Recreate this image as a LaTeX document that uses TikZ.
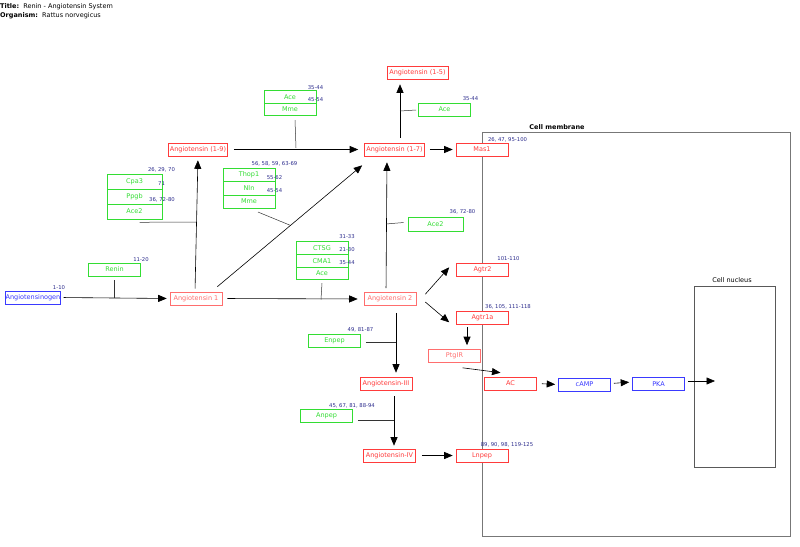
\documentclass[tikz,border=0pt]{standalone}
\usepackage{fontspec}
\setmainfont{DejaVu Sans}
\usetikzlibrary{arrows.meta}
\definecolor{nred}{HTML}{FF3B3B}
\definecolor{npink}{HTML}{FF6E6E}
\definecolor{ngreen}{HTML}{33DD33}
\definecolor{nblue}{HTML}{3A3AFF}
\definecolor{nlab}{HTML}{2B2B8C}
\definecolor{memb}{HTML}{777777}
\newcommand{\nf}{\fontsize{6.5}{7}\selectfont}
\newcommand{\lf}{\fontsize{5.3}{6}\selectfont}
\tikzset{
 base/.style={draw, fill=white, inner sep=0pt, minimum height=13pt, minimum width=52pt, font=\nf, line width=0.6pt},
 redn/.style={base, draw=nred, text=nred},
 pinkn/.style={base, draw=npink, text=npink},
 greenn/.style={base, draw=ngreen, text=ngreen},
 bluen/.style={base, draw=nblue, text=nblue},
 grprow/.style={base, draw=ngreen, text=ngreen},
 lab/.style={font=\lf, text=nlab, inner sep=0pt},
 arr/.style={-{Triangle[length=8.5pt,width=7pt]}, line width=0.6pt, draw=black, shorten >=3pt, shorten <=3pt},
 cat/.style={line width=0.5pt, draw=black!80},
 comp/.style={draw=memb, line width=0.7pt},
}
\begin{document}
\begin{tikzpicture}[x=1pt,y=-1pt]
\useasboundingbox (0,0) rectangle (800,546);
% title
\node[anchor=west, inner sep=0pt, font=\nf] (title) at (0,7) {\textbf{Title:}\ \ Renin - Angiotensin System};
\node[anchor=west, inner sep=0pt, font=\nf] (org) at (0,16) {\textbf{Organism:}\ \ Rattus norvegicus};
% compartments
\draw[comp] (482,132) rectangle (790,536);
\node[font=\nf\bfseries, inner sep=0pt] (membl) at (557,127) {Cell membrane};
\draw[comp, draw=black!65] (694,286) rectangle (775,467);
\node[font=\nf, inner sep=0pt] (nucl) at (732,280) {Cell nucleus};
% main nodes
\node[bluen] (agn) at (33,297.5) {Angiotensinogen};
\node[greenn] (renin) at (114.5,269.5) {Renin};
\node[pinkn] (ang1) at (196,298.5) {Angiotensin 1};
\node[pinkn] (ang2) at (390,299) {Angiotensin 2};
\node[redn, minimum width=59pt] (a19) at (198,149.5) {Angiotensin (1-9)};
\node[redn, minimum width=60pt] (a17) at (394.5,149.5) {Angiotensin (1-7)};
\node[redn, minimum width=61pt] (a15) at (417.5,72.5) {Angiotensin (1-5)};
\node[greenn] (acer) at (444.5,109.5) {Ace};
\node[redn] (mas1) at (482,149.5) {Mas1};
\node[greenn, minimum width=55pt, minimum height=14pt] (ace2r) at (435.5,224.5) {Ace2};
\node[redn] (agtr2) at (482.5,269.5) {Agtr2};
\node[redn] (agtr1a) at (482.5,317.5) {Agtr1a};
\node[pinkn] (ptgir) at (454.5,356) {PtgIR};
\node[redn] (ac) at (510.5,383.5) {AC};
\node[bluen] (camp) at (584.5,384.5) {cAMP};
\node[bluen] (pka) at (658.5,384) {PKA};
\coordinate (nucin) at (715,381);
\node[greenn] (enpep) at (334.5,340.5) {Enpep};
\node[redn] (a3) at (386,383.5) {Angiotensin-III};
\node[greenn] (anpep) at (326.5,415.5) {Anpep};
\node[redn] (a4) at (389.5,455.5) {Angiotensin-IV};
\node[redn] (lnpep) at (482,455.5) {Lnpep};
% groups
\node[grprow, minimum height=12.5pt] (aceg) at (290,97) {Ace};
\node[grprow, minimum height=12.5pt] (mmeg) at (290,109.5) {Mme};
\node[grprow, minimum width=55pt, minimum height=15pt] (cpa3) at (134.5,181.5) {Cpa3};
\node[grprow, minimum width=55pt, minimum height=15pt] (ppgb) at (134.5,196.5) {Ppgb};
\node[grprow, minimum width=55pt, minimum height=15pt] (ace2l) at (134.5,211.5) {Ace2};
\node[grprow, minimum height=13.3pt] (thop1) at (249,175) {Thop1};
\node[grprow, minimum height=13.3pt] (nln) at (249,188.3) {Nln};
\node[grprow, minimum height=13.3pt] (mmet) at (249,201.6) {Mme};
\node[grprow, minimum height=12.7pt] (ctsg) at (322,248) {CTSG};
\node[grprow, minimum height=12.7pt] (cma1) at (322,260.7) {CMA1};
\node[grprow, minimum height=12.7pt] (acec) at (322,273.4) {Ace};
% labels
\node[lab] (l1) at (315.5,88) {35-44};
\node[lab] (l2) at (315.5,100) {45-54};
\node[lab] (l3) at (470.5,99) {35-44};
\node[lab] (l4) at (507.5,140) {26, 47, 95-100};
\node[lab] (l5) at (161.5,170) {26, 29, 70};
\node[lab] (l6) at (161.5,184) {71};
\node[lab] (l7) at (162,200) {36, 72-80};
\node[lab] (l8) at (274.5,164) {56, 58, 59, 63-69};
\node[lab] (l9) at (274.5,178) {55-62};
\node[lab] (l10) at (274.5,191) {45-54};
\node[lab] (l11) at (347,237) {31-33};
\node[lab] (l12) at (347,250) {21-30};
\node[lab] (l13) at (347,263) {35-44};
\node[lab] (l14) at (462.5,212) {36, 72-80};
\node[lab] (l15) at (508.5,259) {101-110};
\node[lab] (l16) at (508,307) {36, 105, 111-118};
\node[lab] (l17) at (141,260) {11-20};
\node[lab] (l18) at (59,288) {1-10};
\node[lab] (l19) at (360.5,330) {49, 81-87};
\node[lab] (l20) at (352,406) {45, 67, 81, 88-94};
\node[lab] (l21) at (507,445) {89, 90, 98, 119-125};
% reactions
\draw[arr] (agn.east) -- (ang1.west);
\draw[arr, shorten >=4pt] ([xshift=-1pt]ang1.north) -- (a19.south);
\draw[arr, shorten >=6pt, shorten <=6pt] (a19.east) -- (a17.west);
\draw[arr, shorten <=5pt, shorten >=6pt] (ang1.east) -- (ang2.west);
\draw[arr, shorten <=0pt, shorten >=0pt] ([xshift=-5pt,yshift=5pt]ang1.north east) -- ([xshift=-2pt,yshift=-9pt]a17.south west);
\draw[arr, shorten <=4pt, shorten >=6pt] ([xshift=-4pt]ang2.north) -- ([xshift=-7.5pt]a17.south);
\draw[arr, shorten <=5pt, shorten >=5pt] ([xshift=5.5pt]a17.north) -- ([xshift=5.5pt]a17.north |- a15.south);
\draw[arr, shorten <=5pt] (a17.east) -- (mas1.west);
\draw[arr, shorten <=0pt, shorten >=0pt] ([xshift=9pt,yshift=-2pt]ang2.north east) -- ([xshift=-7pt,yshift=9pt]agtr2.south west);
\draw[arr, shorten <=0pt, shorten >=0pt] ([xshift=9pt,yshift=-3pt]ang2.east) -- ([xshift=-7pt,yshift=2pt]agtr1a.south west);
\draw[arr, shorten >=4pt] ([xshift=-15.5pt]agtr1a.south) -- ([xshift=-15.5pt]agtr1a.south |- ptgir.north);
\draw[arr, shorten <=0pt, shorten >=0pt] ([xshift=8pt,yshift=-5pt]ptgir.south) -- ([xshift=-10pt,yshift=4pt]ac.north);
\draw[arr, shorten <=5pt] (ac.east) -- (camp.west);
\draw[arr] ([yshift=1pt]camp.east) -- ([yshift=2pt]pka.west);
\draw[arr, shorten >=0pt] ([yshift=3pt]pka.east) -- (nucin);
\draw[arr, shorten <=7pt, shorten >=4pt] ([xshift=6pt]ang2.south) -- ([xshift=6pt]ang2.south |- a3.north);
\draw[arr, shorten <=6pt, shorten >=3pt] ([xshift=8pt]a3.south) -- ([xshift=8pt]a3.south |- a4.north);
\draw[arr, shorten <=6pt] (a4.east) -- (lnpep.west);
% catalysis joins
\coordinate (j1) at (114.5,297.8);
\coordinate (j2) at (195.8,222);
\coordinate (j3) at (290,225.2);
\coordinate (j4) at (296,148);
\coordinate (j5) at (321,299.5);
\coordinate (j6) at (386,224);
\coordinate (j7) at (400,111);
\coordinate (j8) at (396,342);
\coordinate (j9) at (394,420);
\draw[cat] ([yshift=-4pt]renin.south) -- (j1);
\draw[cat] ([xshift=5pt,yshift=-3pt]ace2l.south) -- (j2);
\draw[cat] ([xshift=9pt,yshift=-3.5pt]mmet.south) -- (j3);
\draw[cat] ([xshift=5pt,yshift=-4pt]mmeg.south) -- (j4);
\draw[cat] ([yshift=-3pt]acec.south) -- (j5);
\draw[cat] ([xshift=-4pt,yshift=2pt]ace2r.west) -- (j6);
\draw[cat] ([xshift=-2pt,yshift=-0.5pt]acer.west) -- (j7);
\draw[cat] ([xshift=5pt,yshift=-1.5pt]enpep.east) -- (j8);
\draw[cat] ([xshift=5pt,yshift=-4.5pt]anpep.east) -- (j9);
\end{tikzpicture}
\end{document}
